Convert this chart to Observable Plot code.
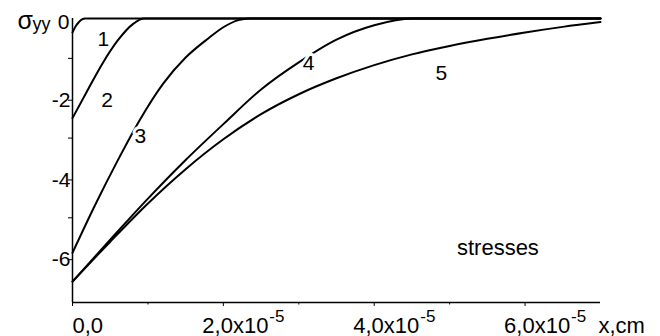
<!DOCTYPE html>
<html><head><meta charset="utf-8">
<script src="https://cdn.jsdelivr.net/npm/d3@7"></script>
<script src="https://cdn.jsdelivr.net/npm/@observablehq/plot@0.6"></script>
<style>body{margin:0;background:#fff}</style>
</head><body><div id="chart"></div>
<script>
// x values in units of 1e-5 cm, y = sigma_yy
const curve1X = [0, 0.04, 0.08, 0.12, 0.17, 7];
const curve1Y = [-0.35, -0.2, -0.1, -0.03, 0, 0];
const curve2X = [0, 0.2, 0.4, 0.6, 0.8, 0.95, 7];
const curve2Y = [-2.5, -1.8, -1.12, -0.55, -0.14, 0, 0];
const curve3X = [0, 0.3, 0.6, 0.9, 1.2, 1.5, 1.8, 2.0, 2.2, 2.35, 7];
const curve3Y = [-5.88, -4.68, -3.56, -2.52, -1.64, -0.98, -0.5, -0.22, -0.04, 0, 0];
const curve4X = [0, 0.5, 1.0, 1.5, 2.0, 2.5, 3.0, 3.5, 4.0, 4.5, 7];
const curve4Y = [-6.6, -5.55, -4.52, -3.55, -2.65, -1.78, -1.1, -0.53, -0.17, 0, 0];
const curve5X = [0, 0.5, 1.0, 1.5, 2.0, 2.5, 3.0, 3.5, 4.0, 4.5, 5.0, 5.5, 6.0, 6.5, 7.0];
const curve5Y = [-6.6, -5.6, -4.64, -3.78, -3.03, -2.4, -1.9, -1.5, -1.17, -0.9, -0.69, -0.51, -0.35, -0.21, -0.09];

const curveLabels = ["1", "2", "3", "4", "5"];
const curveLabelX = [0.41, 0.46, 0.9, 3.13, 4.89];
const curveLabelY = [-0.53, -2.05, -2.95, -1.13, -1.38];

const xMajorTicks = [0, 2, 4, 6];
const xMinorTicks = [1, 3, 5];
const xTickMain = ["0,0", "2,0x10", "4,0x10", "6,0x10"];
const xTickExp = ["", "-5", "-5", "-5"];
const yMajorTicks = [0, -2, -4, -6];
const yMinorTicks = [-1, -3, -5];
const xDomain = [0, 7];
const yDomain = [-7.125, 0];

const yTitleMain = "σ";
const yTitleSub = "yy";
const xTitle = "x,cm";
const noteText = ["stresses"];
const noteX = [5.64];
const noteY = [-5.75];

const series = [[curve1X, curve1Y], [curve2X, curve2Y], [curve3X, curve3Y], [curve4X, curve4Y], [curve5X, curve5Y]];
const lineMarks = series.map(([xs, ys]) =>
  Plot.line(xs.map((x, i) => ({x, y: ys[i]})), {x: "x", y: "y", curve: "monotone-x", stroke: "#000", strokeWidth: 2})
);
const xTickTable = xMajorTicks.map((v, i) => ({v, main: xTickMain[i], exp: xTickExp[i]}));

const chart = Plot.plot({
  width: 660, height: 336,
  marginLeft: 72, marginRight: 60, marginTop: 18, marginBottom: 34,
  x: {domain: xDomain, label: null},
  y: {domain: yDomain, label: null},
  style: {fontFamily: "'Liberation Sans', Arial, sans-serif", fontSize: "21px", color: "#000", background: "#fff", overflow: "visible"},
  marks: [
    ...lineMarks,
    Plot.ruleX([xDomain[0]], {stroke: "#000", strokeWidth: 1.5}),
    Plot.ruleY([yDomain[0]], {stroke: "#000", strokeWidth: 1.5}),
    Plot.axisY({ticks: yMajorTicks.filter(v => v !== 0), tickSize: 4, tickPadding: -2, tickFormat: d => String(d), fontSize: 21, dy: 2, label: null, stroke: "#000"}),
    Plot.axisY({ticks: [yMajorTicks[0]], tickSize: 0, tickPadding: 3, tickFormat: d => String(d), fontSize: 21, dy: 4, label: null}),
    Plot.axisY({ticks: yMinorTicks, tickSize: 4, tickFormat: () => "", label: null, stroke: "#000"}),
    Plot.axisX({ticks: xMajorTicks, tickSize: 4, tickFormat: () => "", label: null, stroke: "#000"}),
    Plot.axisX({ticks: xMinorTicks, tickSize: 2.5, tickFormat: () => "", label: null, stroke: "#000"}),
    Plot.text(xTickTable, {filter: d => d.exp === "", x: "v", frameAnchor: "bottom", text: "main", textAnchor: "start", lineAnchor: "bottom", dy: 30, fontSize: 22, fill: "#000"}),
    Plot.text(xTickTable, {filter: d => d.exp !== "", x: "v", frameAnchor: "bottom", text: "main", textAnchor: "start", lineAnchor: "bottom", dx: -21, dy: 30, fontSize: 22, fill: "#000"}),
    Plot.text(xTickTable, {filter: d => d.exp !== "", x: "v", frameAnchor: "bottom", text: "exp", textAnchor: "start", lineAnchor: "bottom", dx: 46, dy: 19, fontSize: 17, fill: "#000"}),
    Plot.text([xTitle], {frameAnchor: "bottom-right", textAnchor: "start", lineAnchor: "bottom", dx: -2, dy: 30, fontSize: 22, fill: "#000"}),
    Plot.text([yTitleMain], {frameAnchor: "top-left", textAnchor: "start", lineAnchor: "bottom", dx: -55, dy: 10, fontSize: 25, fill: "#000"}),
    Plot.text([yTitleSub], {frameAnchor: "top-left", textAnchor: "start", lineAnchor: "bottom", dx: -40, dy: 11, fontSize: 18, fill: "#000"}),
    Plot.text(curveLabels, {x: (d, i) => curveLabelX[i], y: (d, i) => curveLabelY[i], text: d => d, fontSize: 21, fill: "#000", stroke: "#fff", strokeWidth: 6, paintOrder: "stroke"}),
    Plot.text(noteText, {x: (d, i) => noteX[i], y: (d, i) => noteY[i], text: d => d, fontSize: 22, fill: "#000"})
  ]
});
document.getElementById("chart").appendChild(chart);
</script>
</body></html>
